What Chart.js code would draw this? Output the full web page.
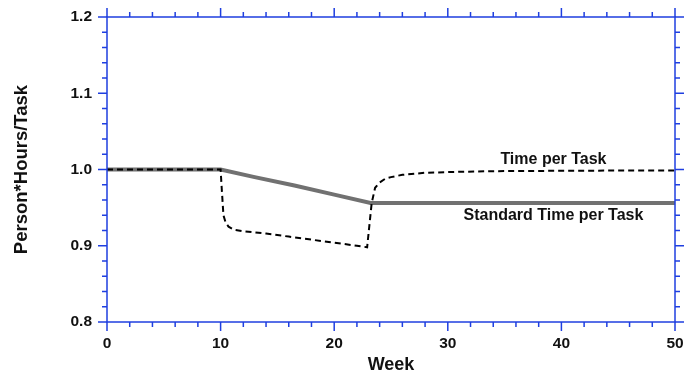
<!DOCTYPE html>
<html>
<head>
<meta charset="utf-8">
<script src="https://cdn.jsdelivr.net/npm/chart.js@4/dist/chart.umd.min.js"></script>
<style>
  body { margin: 0; background: #fff; }
  canvas { display: block; }
</style>
</head>
<body>
<canvas id="myChart" width="686" height="376"></canvas>
<script>
// Time per Task (dashed)
const timeX = [0, 10, 10.1, 10.25, 10.45, 10.7, 11.2, 12, 14, 16, 18, 20, 22, 22.9, 23.05, 23.3, 23.6, 24, 24.5, 25, 26, 28, 31, 34, 40, 45, 50];
const timeY = [1.0, 1.0, 0.975, 0.94, 0.93, 0.925, 0.921, 0.919, 0.916, 0.912, 0.908, 0.904, 0.900, 0.898, 0.92, 0.956, 0.976, 0.983, 0.988, 0.990, 0.993, 0.9957, 0.997, 0.9978, 0.9983, 0.9986, 0.9987];

// Standard Time per Task (solid grey)
const stdX = [0, 10, 13, 16.5, 20, 23.2, 50];
const stdY = [1.0, 1.0, 0.99, 0.979, 0.967, 0.956, 0.956];

const xTicks = [0, 10, 20, 30, 40, 50];
const yTicks = [0.8, 0.9, 1.0, 1.1, 1.2];

const seriesNames = ['Time per Task', 'Standard Time per Task'];
const labelAt = [[39.3, 1.013], [39.3, 0.939]];

const FONT = '"Liberation Sans", Arial, sans-serif';
const AXIS = '#1f3fe0';

const toPts = (xs, ys) => xs.map((x, i) => ({x: x, y: ys[i]}));

// frame, ticks on all four sides, and series labels
const framePlugin = {
    id: 'frame',
    afterDraw(chart) {
        const c = chart.ctx;
        const a = chart.chartArea;
        const sx = chart.scales.x, sy = chart.scales.y;
        c.save();
        c.strokeStyle = AXIS;
        c.lineWidth = 1.5;
        c.strokeRect(a.left, a.top, a.right - a.left, a.bottom - a.top);
        c.beginPath();
        for (let v = 0; v <= 50; v += 2) {
            const px = sx.getPixelForValue(v);
            const len = v % 10 === 0 ? 9 : 5;
            c.moveTo(px, a.bottom); c.lineTo(px, a.bottom + len);
            c.moveTo(px, a.top); c.lineTo(px, a.top - len);
        }
        for (let i = 0; i <= 20; i++) {
            const py = sy.getPixelForValue(0.8 + i * 0.02);
            const len = i % 5 === 0 ? 9 : 5;
            c.moveTo(a.left, py); c.lineTo(a.left - len, py);
            c.moveTo(a.right, py); c.lineTo(a.right + len, py);
        }
        c.stroke();

        c.fillStyle = '#111';
        c.font = 'bold 16px ' + FONT;
        c.textAlign = 'center';
        c.textBaseline = 'middle';
        seriesNames.forEach((t, i) => {
            c.fillText(t, sx.getPixelForValue(labelAt[i][0]), sy.getPixelForValue(labelAt[i][1]));
        });
        c.restore();
    }
};

const ctx = document.getElementById('myChart').getContext('2d');

let chart = new Chart(ctx, {
    type: 'line',
    data: {
        datasets: [{
            label: seriesNames[0],
            data: toPts(timeX, timeY),
            borderColor: '#000',
            borderWidth: 2,
            borderDash: [6, 4],
            pointRadius: 0,
            fill: false,
            tension: 0
        }, {
            label: seriesNames[1],
            data: toPts(stdX, stdY),
            borderColor: '#717171',
            borderWidth: 4,
            pointRadius: 0,
            fill: false,
            tension: 0
        }]
    },
    options: {
        responsive: false,
        animation: false,
        devicePixelRatio: 1,
        layout: { padding: { top: 17, right: 11, left: 0, bottom: 0 } },
        plugins: { legend: { display: false }, tooltip: { enabled: false } },
        scales: {
            x: {
                type: 'linear',
                min: 0, max: 50,
                afterBuildTicks: s => { s.ticks = xTicks.map(v => ({value: v})); },
                afterFit: s => { s.height = 54; s.paddingLeft = 0; s.paddingRight = 0; },
                grid: { display: false, drawTicks: false },
                border: { display: false },
                ticks: { padding: 12, color: '#111', font: { family: FONT, size: 15.5, weight: 'bold' } },
                title: { display: true, text: 'Week', color: '#111', padding: 0,
                         font: { family: FONT, size: 18, weight: 'bold' } }
            },
            y: {
                min: 0.8, max: 1.2,
                afterBuildTicks: s => { s.ticks = yTicks.map(v => ({value: v})); },
                afterFit: s => { s.width = 107; s.paddingTop = 0; s.paddingBottom = 0; },
                grid: { display: false, drawTicks: false },
                border: { display: false },
                ticks: { padding: 15, color: '#111', callback: v => v.toFixed(1),
                         font: { family: FONT, size: 15.5, weight: 'bold' } },
                title: { display: true, text: 'Person*Hours/Task', color: '#111', padding: { top: 11, bottom: 0 },
                         font: { family: FONT, size: 18.5, weight: 'bold' } }
            }
        }
    },
    plugins: [framePlugin]
});
</script>
</body>
</html>
